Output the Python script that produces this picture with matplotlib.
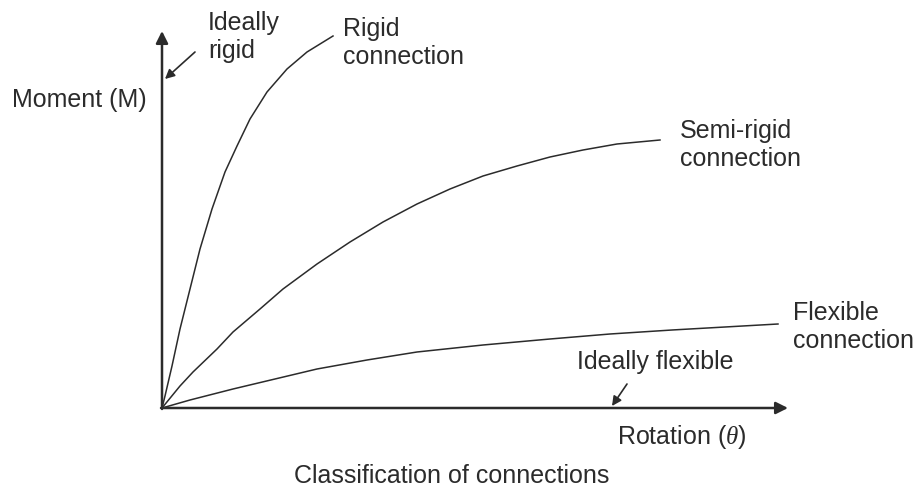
import matplotlib.pyplot as plt

plt.rcParams['font.family'] = ['Liberation Sans', 'DejaVu Sans']
plt.rcParams['mathtext.fontset'] = 'custom'
plt.rcParams['mathtext.it'] = 'Liberation Serif:italic'

# moment-rotation curves (arbitrary units)
rigid_rot = [0, 0.03, 0.10, 0.18, 0.28, 0.38, 0.50, 0.63, 0.75, 0.88, 1.05, 1.25, 1.45, 1.71]
rigid_mom = [0, 0.12, 0.42, 0.79, 1.19, 1.59, 1.99, 2.36, 2.62, 2.89, 3.16, 3.39, 3.56, 3.72]

semi_rot = [0, 0.18, 0.31, 0.55, 0.71, 0.98, 1.21, 1.55, 1.88, 2.21, 2.55, 2.88,
            3.21, 3.55, 3.88, 4.21, 4.55, 4.98]
semi_mom = [0, 0.22, 0.36, 0.59, 0.76, 0.99, 1.19, 1.44, 1.66, 1.86, 2.04, 2.19,
            2.32, 2.42, 2.51, 2.58, 2.64, 2.68]

flex_rot = [0, 0.28, 0.71, 1.13, 1.55, 2.05, 2.55, 3.21, 3.88, 4.48, 5.10, 5.63, 6.16]
flex_mom = [0, 0.08, 0.19, 0.29, 0.39, 0.48, 0.56, 0.63, 0.69, 0.74, 0.78, 0.81, 0.84]

ink = '#2b2b2b'
fs = 18

fig = plt.figure(figsize=(9.2, 4.89), dpi=100)
ax = fig.add_axes([0, 0, 1, 1])
ax.set_xlim(-1.62, 7.58)
ax.set_ylim(-0.80, 4.09)
ax.axis('off')

ax.plot(rigid_rot, rigid_mom, color=ink, lw=1.1, solid_joinstyle='round')
ax.plot(semi_rot, semi_mom, color=ink, lw=1.1, solid_joinstyle='round')
ax.plot(flex_rot, flex_mom, color=ink, lw=1.1, solid_joinstyle='round')

# axes with arrows
arrow = dict(arrowstyle='-|>', color=ink, lw=1.8, mutation_scale=18, shrinkA=0, shrinkB=0)
ax.annotate('', xy=(0, 3.77), xytext=(0, -0.01), arrowprops=arrow)
ax.annotate('', xy=(6.26, 0), xytext=(-0.01, 0), arrowprops=arrow)

# pointer arrows
small = dict(arrowstyle='-|>', color=ink, lw=1.2, mutation_scale=14, shrinkA=0, shrinkB=0)
ax.annotate('', xy=(0.03, 3.29), xytext=(0.33, 3.56), arrowprops=small)
ax.annotate('', xy=(4.50, 0.02), xytext=(4.65, 0.24), arrowprops=small)

ax.text(0.46, 3.72, 'Ideally\nrigid', fontsize=fs, color=ink, va='center', ha='left', linespacing=1.2)
ax.text(1.81, 3.66, 'Rigid\nconnection', fontsize=fs, color=ink, va='center', ha='left', linespacing=1.2)
ax.text(-1.50, 3.09, 'Moment (M)', fontsize=fs, color=ink, va='center', ha='left')
ax.text(5.18, 2.64, 'Semi-rigid\nconnection', fontsize=fs, color=ink, va='center', ha='left', linespacing=1.2)
ax.text(6.31, 0.82, 'Flexible\nconnection', fontsize=fs, color=ink, va='center', ha='left', linespacing=1.2)
ax.text(4.93, 0.47, 'Ideally flexible', fontsize=fs, color=ink, va='center', ha='center')
ax.text(4.55, -0.28, r'Rotation ($\theta$)', fontsize=fs, color=ink, va='center', ha='left')
ax.text(2.90, -0.67, 'Classification of connections', fontsize=fs, color=ink, va='center', ha='center')

fig.savefig('out.png', dpi=100, facecolor='white')
